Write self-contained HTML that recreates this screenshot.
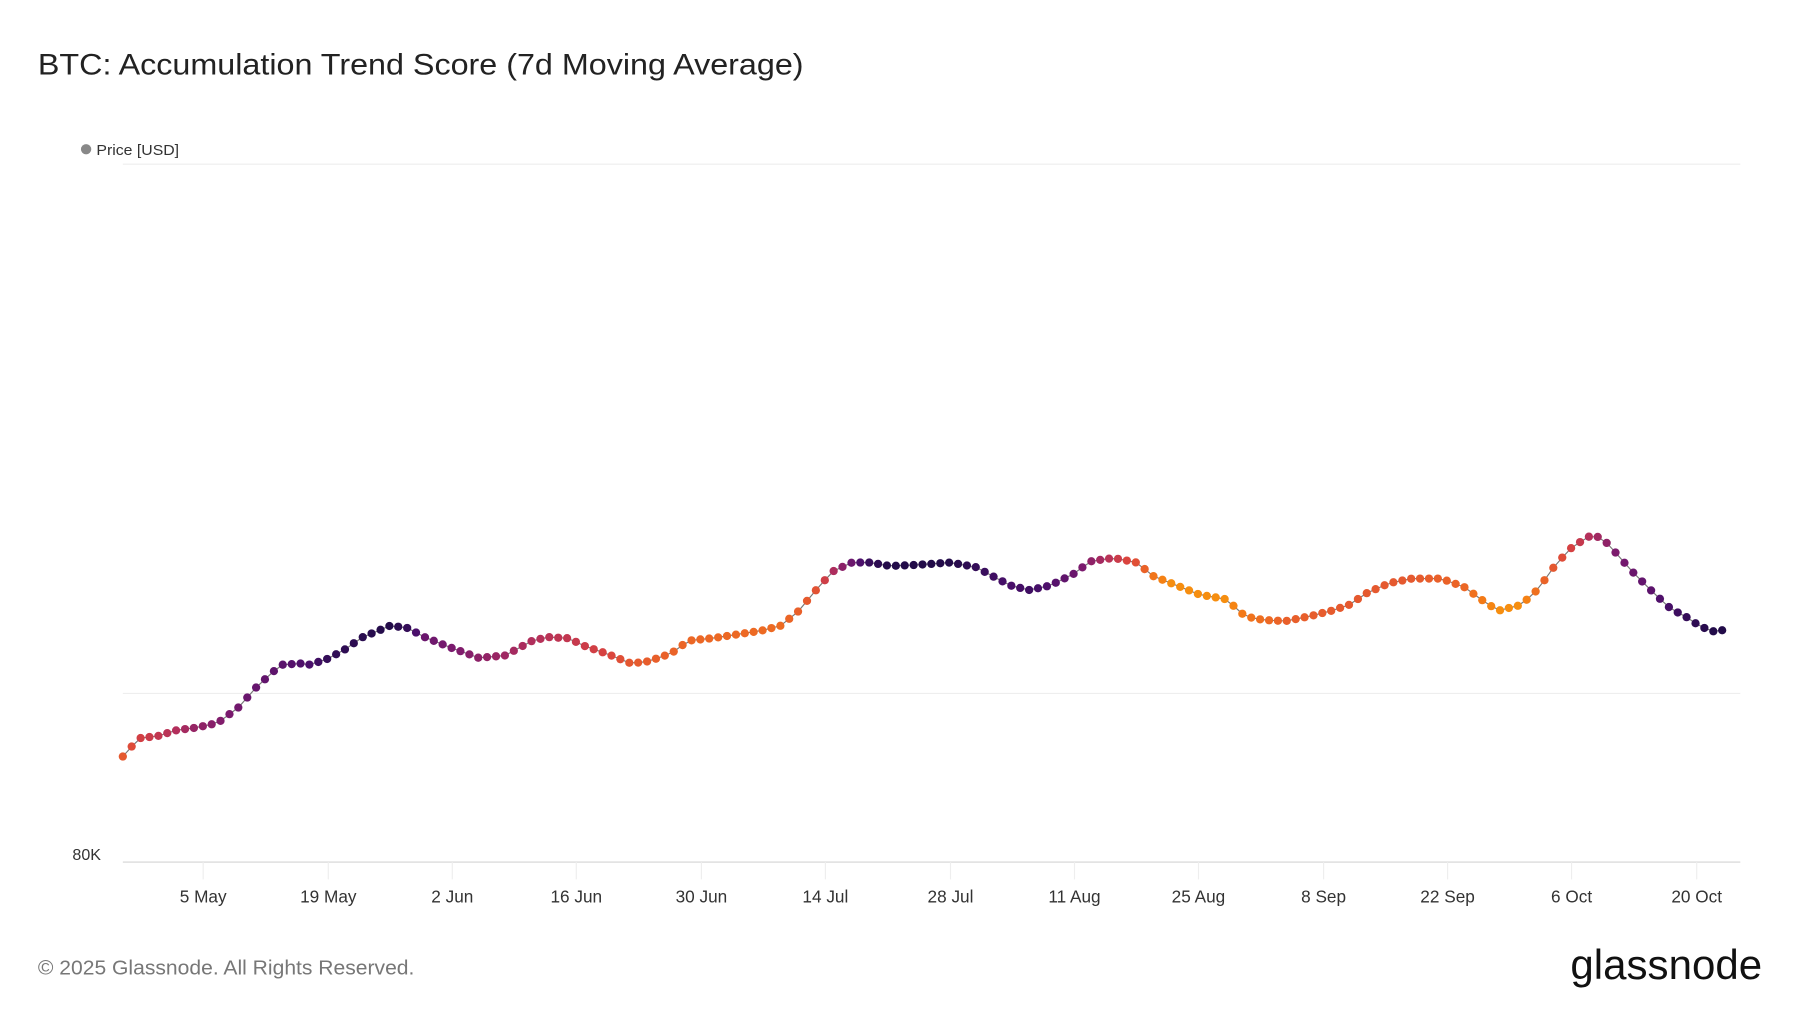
<!DOCTYPE html>
<html><head><meta charset="utf-8"><style>
html,body{margin:0;padding:0;background:#fff;}
svg{display:block;}
</style></head><body>
<svg id="s" width="1800" height="1013" viewBox="0 0 1568 882.4" preserveAspectRatio="none" xmlns="http://www.w3.org/2000/svg" font-family="'Liberation Sans', sans-serif">
<text x="33" y="65" font-size="26" fill="#222" textLength="667" lengthAdjust="spacingAndGlyphs">BTC: Accumulation Trend Score (7d Moving Average)</text>
<circle cx="75" cy="130" r="4.5" fill="#888"/>
<text x="84" y="135" font-size="13" fill="#333" textLength="72" lengthAdjust="spacingAndGlyphs">Price [USD]</text>
<line x1="107" y1="143" x2="1516" y2="143" stroke="#eee" stroke-width="1"/>
<line x1="107" y1="604" x2="1516" y2="604" stroke="#eee" stroke-width="1"/>
<line x1="107" y1="751" x2="1516" y2="751" stroke="#e3e3e3" stroke-width="1.5"/>
<text x="88" y="749" font-size="14" fill="#333" text-anchor="end">80K</text>
<g id="ticks"></g>
<g id="series"></g>
<text x="33" y="849" font-size="18" fill="#777" textLength="328" lengthAdjust="spacingAndGlyphs">© 2025 Glassnode. All Rights Reserved.</text>
<text x="1368" y="853" font-size="36" fill="#111" textLength="167" lengthAdjust="spacingAndGlyphs">glassnode</text>
</svg>
<script>
const NS="http://www.w3.org/2000/svg";
const ticks=[["5 May",177],["19 May",286],["2 Jun",394],["16 Jun",502],["30 Jun",611],["14 Jul",719],["28 Jul",828],["11 Aug",936],["25 Aug",1044],["8 Sep",1153],["22 Sep",1261],["6 Oct",1369],["20 Oct",1478]];
const tg=document.getElementById("ticks");
ticks.forEach(([l,x])=>{
 const ln=document.createElementNS(NS,"line");
 ln.setAttribute("x1",x);ln.setAttribute("x2",x);ln.setAttribute("y1",751);ln.setAttribute("y2",766);
 ln.setAttribute("stroke","#eee");tg.appendChild(ln);
 const t=document.createElementNS(NS,"text");
 t.setAttribute("x",x);t.setAttribute("y",786);t.setAttribute("font-size","15");t.setAttribute("fill","#333");t.setAttribute("text-anchor","middle");
 t.textContent=l;tg.appendChild(t);
});
const Y=[[107,659],[115,650],[122,643],[138,641],[154,636],[170,634],[184,631],[192,628],[200,622],[207,617],[215,608],[223,599],[238,585],[246,579],[262,578],[270,579],[285,574],[300,566],[316,555],[340,545],[355,547],[370,555],[395,565],[417,573],[440,571],[464,558],[478,555],[495,556],[510,563],[530,570],[550,578],[565,576],[585,569],[600,558],[620,556],[640,553],[665,549],[680,545],[695,533],[710,515],[725,498],[742,490],[758,490],[775,493],[800,492],[828,490],[850,494],[865,502],[880,510],[897,514],[915,510],[935,500],[950,489],[970,486],[990,490],[1005,502],[1020,508],[1045,518],[1068,522],[1085,537],[1100,540],[1120,541],[1140,537],[1160,532],[1175,527],[1190,517],[1210,508],[1230,504],[1255,504],[1275,511],[1290,522],[1305,532],[1325,527],[1340,513],[1355,492],[1370,476],[1385,467],[1395,468],[1408,482],[1420,496],[1440,516],[1455,530],[1470,538],[1480,545],[1492,550],[1500,549]];
const T=[[107,0.72],[122,0.6],[154,0.5],[170,0.42],[200,0.35],[215,0.3],[246,0.25],[270,0.2],[285,0.1],[316,0.05],[340,0.02],[355,0.1],[370,0.3],[417,0.4],[464,0.5],[495,0.55],[530,0.62],[550,0.72],[600,0.78],[680,0.8],[710,0.7],[725,0.5],[742,0.3],[758,0.1],[775,0.02],[828,0.02],[850,0.1],[880,0.2],[897,0.15],[935,0.3],[950,0.4],[970,0.55],[990,0.68],[1005,0.85],[1020,0.95],[1068,0.95],[1085,0.85],[1120,0.75],[1175,0.72],[1230,0.72],[1275,0.78],[1305,0.95],[1325,0.95],[1340,0.8],[1370,0.6],[1385,0.5],[1408,0.35],[1440,0.25],[1470,0.1],[1492,0.02],[1500,0.02]];
function interp(a,x){for(let i=0;i<a.length-1;i++){if(x<=a[i+1][0]){const f=(x-a[i][0])/(a[i+1][0]-a[i][0]);return a[i][1]+f*(a[i+1][1]-a[i][1]);}}return a[a.length-1][1];}
const P=[[0,[30,11,69]],[0.2,[74,15,107]],[0.35,[122,26,110]],[0.5,[178,47,92]],[0.62,[217,67,63]],[0.75,[233,96,42]],[0.88,[244,124,22]],[1,[248,155,11]]];
function col(t){for(let i=0;i<P.length-1;i++){if(t<=P[i+1][0]){const f=(t-P[i][0])/(P[i+1][0]-P[i][0]);const c=P[i][1].map((v,k)=>Math.round(v+f*(P[i+1][1][k]-v)));return `rgb(${c})`;}}return `rgb(${P[P.length-1][1]})`;}
const g=document.getElementById("series");
const pts=[];for(let x=107;x<=1501;x+=7.74)pts.push([x,interp(Y,x),interp(T,x)]);
const pl=document.createElementNS(NS,"polyline");
pl.setAttribute("points",pts.map(p=>p[0].toFixed(1)+","+p[1].toFixed(1)).join(" "));
pl.setAttribute("fill","none");pl.setAttribute("stroke","#777");pl.setAttribute("stroke-width","1");g.appendChild(pl);
pts.forEach(p=>{const c=document.createElementNS(NS,"circle");c.setAttribute("cx",p[0].toFixed(1));c.setAttribute("cy",p[1].toFixed(1));c.setAttribute("r","3.6");c.setAttribute("fill",col(p[2]));g.appendChild(c);});
</script>
</body></html>
